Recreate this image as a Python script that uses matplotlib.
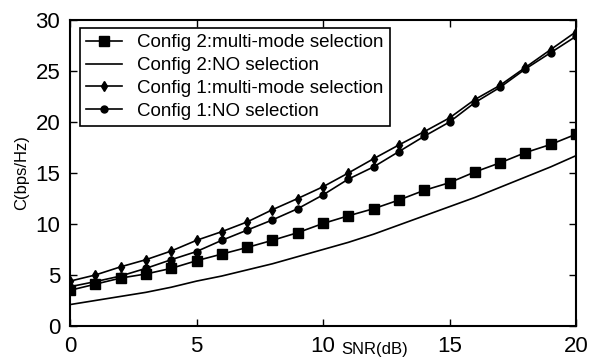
import matplotlib
matplotlib.use('Agg')
import matplotlib.pyplot as plt

snr = list(range(0, 21))

# capacity values, bps/Hz
cfg2_multi = [3.5, 4.1, 4.7, 5.1, 5.65, 6.4, 7.05, 7.7, 8.4, 9.15, 10.05,
              10.8, 11.5, 12.35, 13.3, 14.05, 15.1, 16.0, 17.0, 17.8, 18.8]
cfg2_none = [2.1, 2.5, 2.9, 3.3, 3.8, 4.4, 4.9, 5.5, 6.1, 6.8, 7.5,
             8.2, 9.0, 9.9, 10.8, 11.7, 12.6, 13.6, 14.6, 15.6, 16.7]
cfg1_multi = [4.4, 5.0, 5.8, 6.5, 7.35, 8.4, 9.25, 10.2, 11.4, 12.5, 13.65,
              15.0, 16.4, 17.75, 19.05, 20.4, 22.2, 23.6, 25.35, 27.1, 28.85]
cfg1_none = [3.85, 4.35, 4.9, 5.65, 6.5, 7.3, 8.4, 9.4, 10.4, 11.5, 12.85,
             14.4, 15.6, 17.1, 18.6, 20.0, 21.9, 23.4, 25.2, 26.8, 28.4]

labels = ['Config 2:multi-mode selection', 'Config 2:NO selection',
          'Config 1:multi-mode selection', 'Config 1:NO selection']

plt.rcParams['font.family'] = ['Liberation Sans', 'DejaVu Sans']

fig = plt.figure(figsize=(5.91, 3.58), dpi=100)
ax = fig.add_axes([70 / 591, 1 - 326 / 358, 506 / 591, 306 / 358])

ax.plot(snr, cfg2_multi, 'k-s', lw=1.2, ms=7, label=labels[0])
ax.plot(snr, cfg2_none, 'k-', lw=1.2, label=labels[1])
ax.plot(snr, cfg1_multi, 'k-d', lw=1.2, ms=5, label=labels[2])
ax.plot(snr, cfg1_none, 'k-o', lw=1.2, ms=5, label=labels[3])

ax.set_xlim(0, 20)
ax.set_ylim(0, 30)
ax.set_xticks([0, 5, 10, 15, 20])
ax.set_yticks([0, 5, 10, 15, 20, 25, 30])
ax.tick_params(direction='in', length=5, width=1, top=True, right=True,
               labelsize=16, pad=7)
for s in ax.spines.values():
    s.set_linewidth(1.5)

ax.set_ylabel('C(bps/Hz)', fontsize=12)
ax.yaxis.set_label_coords(-0.08, 0.5)
# x label sits low and off-centre, as in the original figure
fig.text(375 / 591, 1 / 358, 'SNR(dB)', fontsize=12, ha='center', va='bottom')

leg = ax.legend(loc='upper left', bbox_to_anchor=(0.019, 0.975), fontsize=13.5,
                frameon=True, fancybox=False, edgecolor='k', framealpha=1,
                borderpad=0.35, labelspacing=0.3, handlelength=1.9,
                handletextpad=0.8, borderaxespad=0)
leg.get_frame().set_linewidth(1.2)

fig.savefig('out.png', dpi=100)
